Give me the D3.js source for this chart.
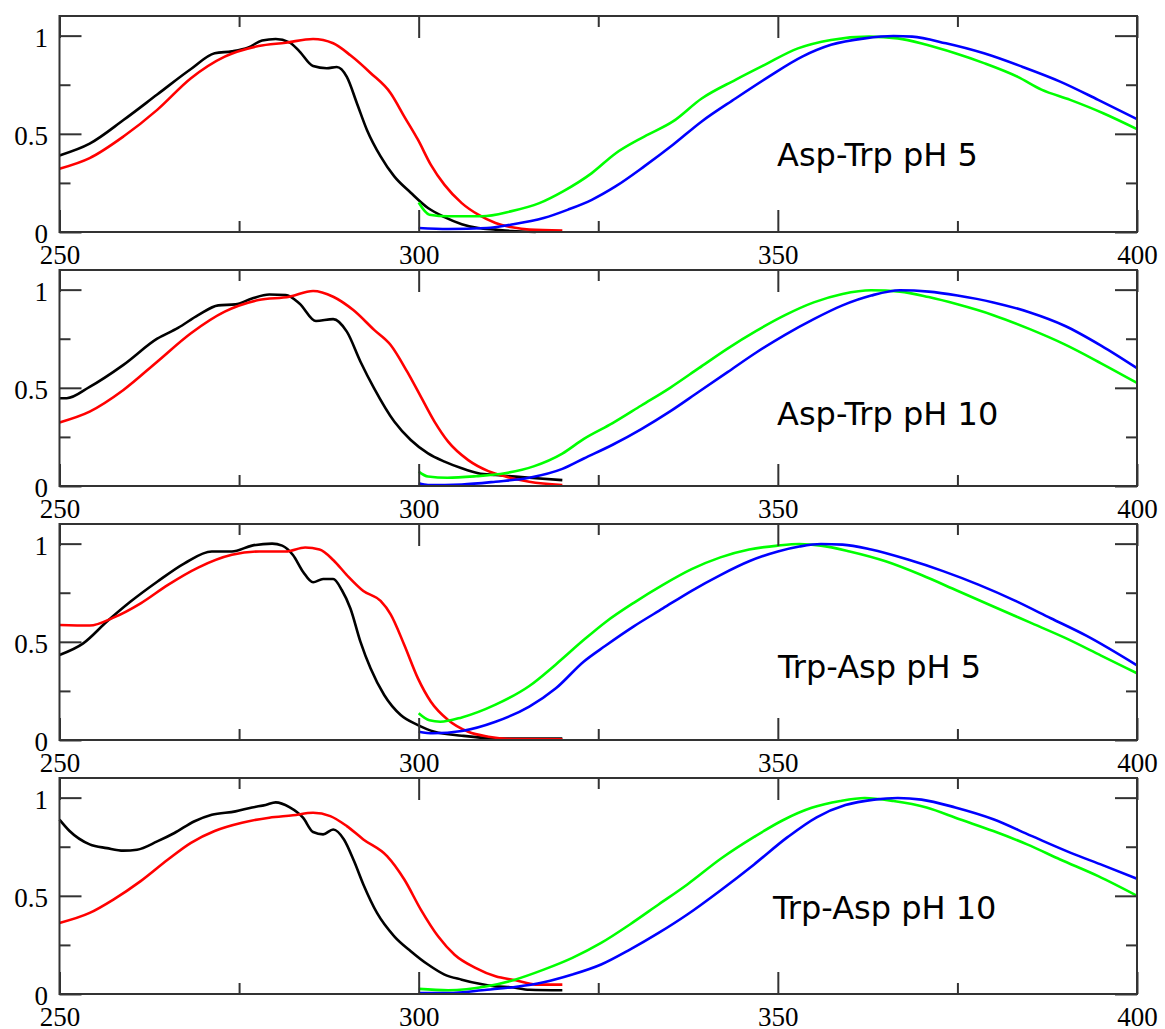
<!DOCTYPE html>
<html><head><meta charset="utf-8">
<script src="https://cdn.jsdelivr.net/npm/d3@7"></script>
<style>body{margin:0;background:#fff}svg{display:block}</style>
</head><body><svg id="c" width="1165" height="1029"></svg>
<script>
// ---------- data ----------
const xMajor = [250, 300, 350, 400];
const xMinor = [275, 325, 375];
const yMajor = [0, 0.5, 1];
const yMinor = [0.25, 0.75];
const yTickText = ["0", "0.5", "1"];
const panelLabels = ["Asp-Trp pH 5", "Asp-Trp pH 10", "Trp-Asp pH 5", "Trp-Asp pH 10"];
const seriesColors = ["#000000", "#ff0000", "#00ff00", "#0000ff"];

// Panel 1: Asp-Trp pH 5
const p1Black = [[250,0.39],[254.2,0.45],[258.9,0.57],[263.6,0.70],[268.3,0.83],[271.6,0.91],[274,0.92],[276.3,0.94],[278.2,0.975],[280.1,0.983],[282,0.966],[283.4,0.92],[285.3,0.845],[287.2,0.834],[288.6,0.84],[290,0.79],[291.4,0.656],[292.8,0.52],[294.7,0.385],[296.6,0.283],[298.9,0.2],[301.3,0.122],[303.6,0.076],[306,0.04],[308.3,0.02],[310.7,0.012],[313,0.005],[316.3,0.0]];
const p1Red = [[250,0.322],[254.2,0.376],[258.9,0.486],[263.6,0.622],[268.3,0.783],[273,0.893],[277.7,0.947],[281.5,0.964],[285.3,0.983],[288.1,0.961],[290.5,0.90],[293.3,0.81],[296.1,0.707],[298,0.588],[299.9,0.47],[301.7,0.342],[303.6,0.24],[306,0.147],[308.3,0.088],[310.7,0.046],[313,0.024],[315.4,0.012],[320,0.008]];
const p1Green = [[300,0.15],[301.5,0.088],[304.1,0.08],[308.8,0.08],[312.8,0.105],[316.8,0.147],[320.1,0.207],[324.1,0.30],[327.4,0.40],[331.4,0.486],[335.4,0.563],[339.4,0.68],[344.1,0.775],[348.1,0.85],[352.8,0.935],[357.4,0.978],[362.7,0.995],[366.7,0.986],[370.7,0.953],[374.7,0.91],[378.7,0.86],[383.4,0.79],[386.7,0.725],[390.7,0.673],[395.3,0.605],[400,0.524]];
const p1Blue = [[300,0.02],[304.1,0.015],[309.5,0.02],[312.8,0.037],[317.4,0.071],[320.8,0.114],[324.1,0.164],[327.4,0.232],[331.4,0.334],[335.4,0.444],[339.4,0.563],[344.1,0.68],[348.7,0.79],[353.4,0.893],[357.4,0.953],[362.1,0.986],[366.1,0.998],[368.7,0.995],[373.4,0.961],[378.7,0.91],[384,0.842],[389.3,0.766],[394.6,0.673],[400,0.575]];

// Panel 2: Asp-Trp pH 10
const p2Black = [[250,0.447],[251,0.447],[254.2,0.505],[258.9,0.617],[263.6,0.75],[266.5,0.805],[269.3,0.87],[272.1,0.92],[274.5,0.925],[276.8,0.955],[279.2,0.975],[281.5,0.973],[283.4,0.93],[285.7,0.84],[288.1,0.85],[290,0.786],[291.9,0.633],[293.8,0.497],[296.6,0.328],[298.9,0.234],[301.3,0.166],[303.6,0.124],[306,0.09],[308.3,0.065],[310.7,0.056],[315.4,0.042],[320,0.03]];
const p2Red = [[250,0.324],[254.2,0.379],[258.9,0.489],[263.6,0.633],[268.3,0.778],[273,0.888],[277.7,0.947],[282,0.964],[285.3,0.993],[288.1,0.964],[290.9,0.896],[293.8,0.795],[296.1,0.718],[298.4,0.582],[300.3,0.455],[302.2,0.328],[304.1,0.226],[306.9,0.132],[309.7,0.076],[312.1,0.048],[315.4,0.022],[320,0.005]];
const p2Green = [[300,0.073],[301.3,0.048],[304,0.042],[308,0.05],[312,0.065],[316,0.10],[320,0.165],[323,0.24],[327,0.32],[331,0.41],[335,0.50],[339,0.60],[343,0.70],[347,0.79],[351,0.87],[355,0.935],[359,0.978],[363,0.997],[367,0.99],[371,0.962],[375,0.925],[380,0.87],[385,0.80],[390,0.72],[395,0.625],[400,0.525]];
const p2Blue = [[300,0.014],[301.3,0.005],[306,0.008],[310.7,0.022],[315.4,0.042],[320,0.087],[323,0.14],[327,0.21],[331,0.29],[335,0.38],[339,0.48],[343,0.58],[347,0.68],[351,0.77],[355,0.85],[359,0.92],[363,0.97],[367,0.997],[371,0.99],[375,0.97],[380,0.935],[385,0.885],[390,0.815],[395,0.715],[400,0.60]];

// Panel 3: Trp-Asp pH 5
const p3Black = [[250,0.433],[253.3,0.492],[256.6,0.603],[259.9,0.705],[263.6,0.806],[267.4,0.90],[271.2,0.96],[274,0.96],[276.8,0.99],[279.6,1.0],[281,0.99],[282.5,0.942],[283.9,0.857],[285.3,0.803],[286.7,0.82],[288.1,0.82],[289.3,0.764],[290.5,0.67],[291.9,0.50],[293.3,0.365],[295.2,0.229],[297.5,0.127],[299.9,0.076],[302.2,0.042],[306,0.022],[310.7,0.008],[320,0.007]];
const p3Red = [[250,0.586],[254.2,0.583],[257.5,0.623],[261.3,0.696],[265.1,0.79],[269.3,0.878],[274,0.943],[277.8,0.96],[281.5,0.96],[284.2,0.98],[286.2,0.97],[288.1,0.917],[290,0.84],[292.3,0.759],[294.7,0.708],[296.1,0.64],[298,0.484],[299.9,0.314],[301.7,0.195],[304.1,0.102],[306.9,0.042],[309.7,0.017],[313,0.005],[320,0.003]];
const p3Green = [[300,0.136],[301.5,0.10],[303,0.093],[306,0.115],[310.7,0.18],[315.4,0.275],[319.1,0.385],[323,0.51],[326,0.60],[330,0.70],[334,0.79],[338,0.87],[342,0.93],[346,0.97],[350,0.99],[353,0.998],[356,0.99],[360,0.96],[365,0.91],[370,0.84],[375,0.76],[380,0.68],[385,0.60],[390,0.52],[395,0.43],[400,0.34]];
const p3Blue = [[300,0.042],[302,0.034],[306,0.046],[310.7,0.093],[315.4,0.17],[319.1,0.263],[323,0.40],[326,0.48],[330,0.58],[334,0.67],[338,0.76],[342,0.84],[346,0.91],[350,0.96],[353,0.985],[356,0.998],[359,0.995],[363,0.97],[368,0.92],[373,0.86],[378,0.79],[383,0.71],[388,0.62],[393,0.53],[400,0.38]];

// Panel 4: Trp-Asp pH 10
const p4Black = [[250,0.888],[251.4,0.83],[254.2,0.762],[256.6,0.743],[258.9,0.73],[260.8,0.735],[263.6,0.777],[266,0.82],[268.8,0.88],[271.2,0.913],[274.5,0.93],[276.8,0.95],[278.7,0.963],[280.1,0.976],[282,0.952],[283.9,0.898],[285.3,0.825],[286.7,0.813],[288.1,0.838],[289.6,0.787],[291,0.677],[292.3,0.558],[294.2,0.413],[296.6,0.294],[298.9,0.218],[301.3,0.15],[303.6,0.099],[306,0.073],[308.3,0.053],[310.7,0.039],[313,0.034],[315.4,0.022],[320,0.019]];
const p4Red = [[250,0.362],[254.2,0.413],[257.5,0.481],[261.3,0.575],[265.1,0.685],[268.3,0.77],[271.6,0.83],[275.4,0.872],[279.2,0.898],[282.5,0.91],[285.3,0.923],[287.7,0.906],[290,0.855],[292.3,0.787],[295.6,0.702],[298,0.583],[300.3,0.43],[302.7,0.294],[305,0.20],[307.9,0.133],[310.7,0.09],[313.5,0.07],[316.3,0.048],[320,0.048]];
const p4Green = [[300,0.026],[304.1,0.019],[309.5,0.039],[313.4,0.073],[317.4,0.124],[321.4,0.184],[325.4,0.26],[329.4,0.354],[333.4,0.456],[337.4,0.558],[342.1,0.69],[346.7,0.80],[350.7,0.885],[354.7,0.948],[358.7,0.983],[362.1,0.998],[366.1,0.983],[370.7,0.95],[375.3,0.89],[380,0.83],[384.7,0.762],[389.3,0.685],[394.6,0.60],[400,0.50]];
const p4Blue = [[300,0.005],[304.1,0.005],[309.5,0.022],[313.4,0.036],[317.4,0.06],[321.4,0.099],[325.4,0.15],[329.4,0.226],[333.4,0.311],[337.4,0.405],[342.1,0.53],[346.7,0.66],[351.4,0.80],[355.4,0.9],[359.4,0.962],[363.4,0.99],[366.7,0.998],[370,0.99],[374.7,0.95],[380,0.89],[385.3,0.805],[390.7,0.72],[395.3,0.655],[400,0.587]];

const panelSeries = [
  [p1Black, p1Red, p1Green, p1Blue],
  [p2Black, p2Red, p2Green, p2Blue],
  [p3Black, p3Red, p3Green, p3Blue],
  [p4Black, p4Red, p4Green, p4Blue]
];

// ---------- layout ----------
const W = 1165;
const left = 59.5, right = 1137;
const panelTop0 = 16, panelStep = 254, panelH = 216;
const labelPos = [[777,166],[777,425],[778,678],[773,919]];
const frameColor = "#333";

const svg = d3.select("#c");
const x = d3.scaleLinear().domain([250, 400]).range([left, right]);

panelSeries.forEach((series, i) => {
  const top = panelTop0 + i * panelStep;
  const bottom = top + panelH;
  const y = d3.scaleLinear().domain([0, 1.1]).range([bottom, top]);
  const g = svg.append("g");

  // lines
  const line = d3.line().x(d => x(d[0])).y(d => y(d[1])).curve(d3.curveMonotoneX);
  series.forEach((s, k) => {
    g.append("path").attr("d", line(s)).attr("fill", "none")
      .attr("stroke", seriesColors[k]).attr("stroke-width", 2.6)
      .attr("stroke-linejoin", "round").attr("stroke-linecap", "butt");
  });

  // axes (ticks inward)
  const styleAxis = sel => {
    sel.select(".domain").remove();
    sel.selectAll(".tick line").attr("stroke", frameColor).attr("stroke-width", 2);
  };
  g.append("g").attr("transform", `translate(0,${bottom})`)
    .call(d3.axisBottom(x).tickValues(xMajor).tickSize(-22).tickPadding(13).tickFormat(d3.format("d")))
    .call(styleAxis)
    .call(s => s.selectAll("text").attr("font-family", "'Liberation Serif','Times New Roman',serif")
      .attr("font-size", 27).attr("fill", "#000"));
  g.append("g").attr("transform", `translate(0,${bottom})`)
    .call(d3.axisBottom(x).tickValues(xMinor).tickSize(-11).tickFormat(""))
    .call(styleAxis);
  g.append("g").attr("transform", `translate(0,${top})`)
    .call(d3.axisTop(x).tickValues(xMajor).tickSize(-22).tickFormat(""))
    .call(styleAxis);
  g.append("g").attr("transform", `translate(0,${top})`)
    .call(d3.axisTop(x).tickValues(xMinor).tickSize(-11).tickFormat(""))
    .call(styleAxis);
  g.append("g").attr("transform", `translate(${left},0)`)
    .call(d3.axisLeft(y).tickValues(yMajor).tickSize(-22).tickPadding(11.5)
      .tickFormat((d, j) => yTickText[j]))
    .call(styleAxis)
    .call(s => s.selectAll("text").attr("font-family", "'Liberation Serif','Times New Roman',serif")
      .attr("font-size", 27).attr("fill", "#000").attr("dy", "0.4em"));
  g.append("g").attr("transform", `translate(${left},0)`)
    .call(d3.axisLeft(y).tickValues(yMinor).tickSize(-11).tickFormat(""))
    .call(styleAxis);
  g.append("g").attr("transform", `translate(${right},0)`)
    .call(d3.axisRight(y).tickValues(yMajor).tickSize(-22).tickFormat(""))
    .call(styleAxis);
  g.append("g").attr("transform", `translate(${right},0)`)
    .call(d3.axisRight(y).tickValues(yMinor).tickSize(-11).tickFormat(""))
    .call(styleAxis);

  // frame
  g.append("rect").attr("x", left).attr("y", top).attr("width", right - left).attr("height", panelH)
    .attr("fill", "none").attr("stroke", frameColor).attr("stroke-width", 2);

  // panel label
  g.append("text").attr("x", labelPos[i][0]).attr("y", labelPos[i][1])
    .attr("font-family", "'DejaVu Sans',sans-serif").attr("font-size", 32).attr("fill", "#000")
    .text(panelLabels[i]);
});
</script>
</body></html>
